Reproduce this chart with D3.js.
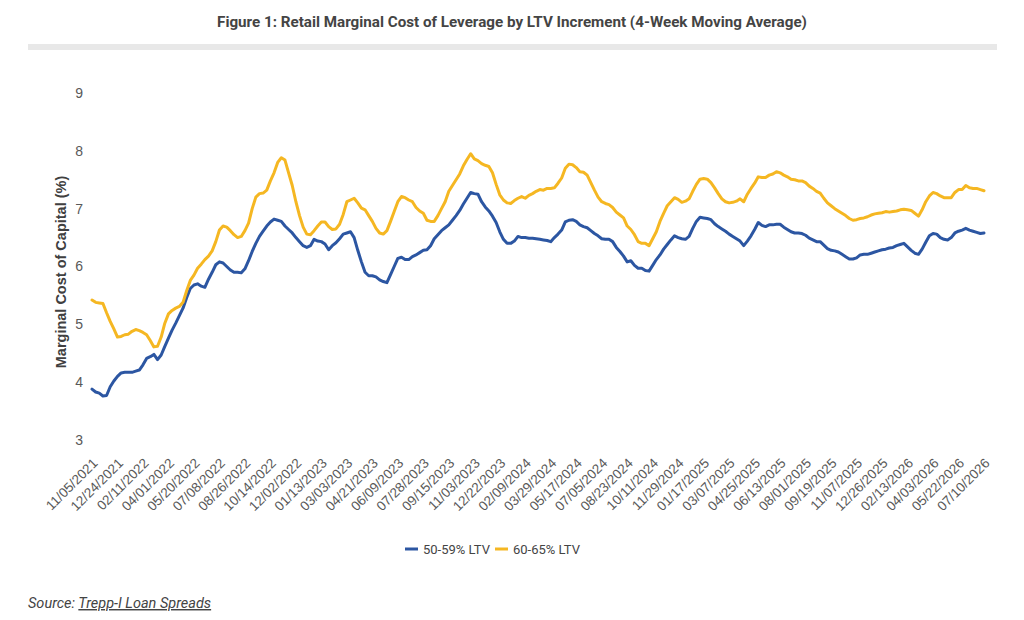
<!DOCTYPE html>
<html>
<head>
<meta charset="utf-8">
<script src="https://cdn.jsdelivr.net/npm/d3@7"></script>
<style>
  body { margin: 0; background: #fff; }
  svg { display: block; }
</style>
</head>
<body>
<div id="chart"></div>
<script>
// tick labels, one every 7 weeks
var tickLabels = ["11/05/2021","12/24/2021","02/11/2022","04/01/2022","05/20/2022","07/08/2022","08/26/2022","10/14/2022","12/02/2022","01/13/2023","03/03/2023","04/21/2023","06/09/2023","07/28/2023","09/15/2023","11/03/2023","12/22/2023","02/09/2024","03/29/2024","05/17/2024","07/05/2024","08/23/2024","10/11/2024","11/29/2024","01/17/2025","03/07/2025","04/25/2025","06/13/2025","08/01/2025","09/19/2025","11/07/2025","12/26/2025","02/13/2026","04/03/2026","05/22/2026","07/10/2026"];

var seriesNames = ["50-59% LTV", "60-65% LTV"];

// 50-59% LTV, weekly
var ltv50 = [3.88,3.83,3.81,3.76,3.77,3.92,4.02,4.10,4.16,4.17,
4.17,4.17,4.19,4.21,4.30,4.41,4.44,4.48,4.39,4.47,
4.62,4.76,4.90,5.02,5.15,5.28,5.46,5.62,5.68,5.70,
5.66,5.64,5.78,5.90,6.03,6.08,6.06,6.00,5.94,5.90,
5.90,5.89,5.96,6.10,6.26,6.40,6.52,6.61,6.70,6.77,
6.82,6.80,6.78,6.70,6.64,6.58,6.50,6.43,6.36,6.33,
6.36,6.47,6.44,6.43,6.39,6.29,6.36,6.41,6.48,6.56,
6.58,6.60,6.50,6.28,6.08,5.90,5.84,5.84,5.82,5.77,
5.74,5.72,5.86,6.00,6.14,6.16,6.12,6.12,6.17,6.20,
6.24,6.28,6.29,6.36,6.48,6.55,6.62,6.67,6.72,6.80,
6.88,6.97,7.08,7.18,7.28,7.26,7.25,7.12,7.03,6.96,
6.87,6.76,6.60,6.47,6.40,6.40,6.44,6.52,6.50,6.50,
6.49,6.49,6.48,6.47,6.46,6.45,6.43,6.50,6.56,6.63,
6.77,6.80,6.81,6.78,6.72,6.69,6.67,6.62,6.57,6.53,
6.48,6.47,6.47,6.43,6.33,6.26,6.18,6.08,6.10,6.02,
5.97,5.97,5.93,5.92,6.02,6.12,6.20,6.30,6.38,6.46,
6.53,6.50,6.48,6.47,6.52,6.66,6.78,6.85,6.84,6.83,
6.81,6.74,6.69,6.65,6.61,6.56,6.52,6.48,6.44,6.36,
6.44,6.53,6.64,6.76,6.71,6.69,6.72,6.72,6.73,6.73,
6.68,6.64,6.60,6.58,6.58,6.57,6.54,6.49,6.46,6.43,
6.43,6.37,6.31,6.28,6.27,6.25,6.21,6.17,6.13,6.13,
6.15,6.20,6.21,6.21,6.23,6.25,6.27,6.29,6.30,6.32,
6.33,6.36,6.38,6.40,6.34,6.28,6.23,6.21,6.30,6.42,
6.53,6.57,6.56,6.50,6.47,6.46,6.50,6.58,6.61,6.63,
6.66,6.63,6.61,6.59,6.57,6.58];

// 60-65% LTV, weekly
var ltv60 = [5.42,5.38,5.37,5.36,5.20,5.05,4.92,4.78,4.79,4.82,
4.83,4.88,4.91,4.89,4.86,4.82,4.72,4.61,4.62,4.78,
5.02,5.18,5.24,5.28,5.31,5.38,5.58,5.76,5.85,5.97,
6.04,6.12,6.18,6.27,6.43,6.63,6.70,6.68,6.62,6.55,
6.50,6.52,6.62,6.75,7.00,7.20,7.26,7.27,7.32,7.48,
7.62,7.80,7.88,7.84,7.62,7.40,7.12,6.88,6.68,6.56,
6.55,6.62,6.70,6.77,6.77,6.69,6.64,6.65,6.73,6.90,
7.12,7.15,7.18,7.10,7.01,6.98,6.88,6.78,6.66,6.58,
6.56,6.62,6.78,6.95,7.12,7.21,7.19,7.15,7.12,7.02,
6.96,6.92,6.80,6.78,6.78,6.88,7.00,7.12,7.30,7.40,
7.50,7.60,7.74,7.85,7.95,7.86,7.83,7.78,7.75,7.73,
7.62,7.42,7.24,7.15,7.10,7.09,7.14,7.18,7.21,7.18,
7.23,7.26,7.30,7.33,7.32,7.35,7.35,7.36,7.44,7.53,
7.70,7.77,7.76,7.71,7.64,7.63,7.58,7.45,7.32,7.20,
7.12,7.09,7.07,7.02,6.94,6.89,6.84,6.70,6.64,6.55,
6.43,6.40,6.40,6.36,6.48,6.60,6.78,6.92,7.05,7.12,
7.19,7.16,7.11,7.13,7.17,7.30,7.42,7.51,7.52,7.51,
7.45,7.36,7.26,7.17,7.12,7.10,7.11,7.13,7.17,7.12,
7.25,7.35,7.44,7.55,7.54,7.54,7.58,7.60,7.64,7.62,
7.58,7.55,7.51,7.50,7.48,7.48,7.45,7.39,7.35,7.30,
7.27,7.18,7.10,7.05,7.00,6.96,6.92,6.88,6.83,6.80,
6.81,6.83,6.84,6.86,6.89,6.91,6.92,6.93,6.95,6.94,
6.95,6.96,6.98,6.99,6.98,6.97,6.92,6.87,6.98,7.12,
7.22,7.28,7.26,7.22,7.19,7.19,7.19,7.28,7.33,7.33,
7.40,7.36,7.35,7.35,7.33,7.31];

var yTicks = [3, 4, 5, 6, 7, 8, 9];
var colors = ["#2c56a2", "#f5b722"];

var width = 1024, height = 620;

var svg = d3.select("#chart").append("svg")
    .attr("width", width)
    .attr("height", height);

// title + grey rule
svg.append("text")
    .attr("x", 512)
    .attr("y", 27)
    .attr("text-anchor", "middle")
    .style("font-family", "Roboto, sans-serif")
    .style("font-weight", "700")
    .style("font-size", "15.2px")
    .style("fill", "#444")
    .text("Figure 1: Retail Marginal Cost of Leverage by LTV Increment (4-Week Moving Average)");

svg.append("rect")
    .attr("x", 28)
    .attr("y", 44)
    .attr("width", 969)
    .attr("height", 6)
    .attr("fill", "#e8e8e8");

var x = d3.scaleLinear()
    .domain([0, ltv50.length - 1])
    .range([92, 984]);

var y = d3.scaleLinear()
    .domain([3, 9])
    .range([440, 93]);

// y axis
var yAxis = svg.append("g")
    .attr("transform", "translate(92,0)")
    .call(d3.axisLeft(y).tickValues(yTicks).tickFormat(d3.format("d")).tickSize(0).tickPadding(9));
yAxis.select(".domain").remove();
yAxis.selectAll("text")
    .style("font-family", "'Liberation Sans', Arial, sans-serif")
    .style("font-size", "14px")
    .style("fill", "#595959");

svg.append("text")
    .attr("transform", "translate(66,272) rotate(-90)")
    .attr("text-anchor", "middle")
    .style("font-family", "'Liberation Sans', Arial, sans-serif")
    .style("font-weight", "700")
    .style("font-size", "14.5px")
    .style("fill", "#404040")
    .text("Marginal Cost of Capital (%)");

// x axis
var xAxis = svg.append("g")
    .attr("transform", "translate(0,446)")
    .call(d3.axisBottom(x)
        .tickValues(tickLabels.map(function(d, i) { return i * 7; }))
        .tickFormat(function(d) { return tickLabels[d / 7]; })
        .tickSize(0));
xAxis.select(".domain").remove();
xAxis.selectAll("text")
    .attr("text-anchor", "end")
    .attr("dy", null)
    .attr("y", 0)
    .attr("transform", "translate(6,18) rotate(-45)")
    .style("font-family", "'Liberation Sans', Arial, sans-serif")
    .style("font-size", "13.5px")
    .style("fill", "#595959");

// lines
var line = d3.line()
    .x(function(d, i) { return x(i); })
    .y(function(d) { return y(d); });

[ltv50, ltv60].forEach(function(s, k) {
  svg.append("path")
      .datum(s)
      .attr("fill", "none")
      .attr("stroke", colors[k])
      .attr("stroke-width", 3)
      .attr("stroke-linejoin", "round")
      .attr("stroke-linecap", "round")
      .attr("d", line);
});

// legend
var legX = [405, 495];
seriesNames.forEach(function(n, k) {
  var g = svg.append("g").attr("transform", "translate(" + legX[k] + ",549)");
  g.append("line")
      .attr("x1", 0).attr("x2", 13)
      .attr("stroke", colors[k])
      .attr("stroke-width", 3);
  g.append("text")
      .attr("x", 18)
      .attr("dy", "0.35em")
      .style("font-family", "Roboto, sans-serif")
      .style("font-size", "13px")
      .style("fill", "#444")
      .text(n);
});

// source
var src = svg.append("text")
    .attr("x", 28)
    .attr("y", 608)
    .style("font-family", "Roboto, sans-serif")
    .style("font-style", "italic")
    .style("font-size", "14.5px")
    .style("fill", "#444");
src.append("tspan").text("Source: ");
src.append("tspan").style("text-decoration", "underline").text("Trepp-I Loan Spreads");
</script>
</body>
</html>
